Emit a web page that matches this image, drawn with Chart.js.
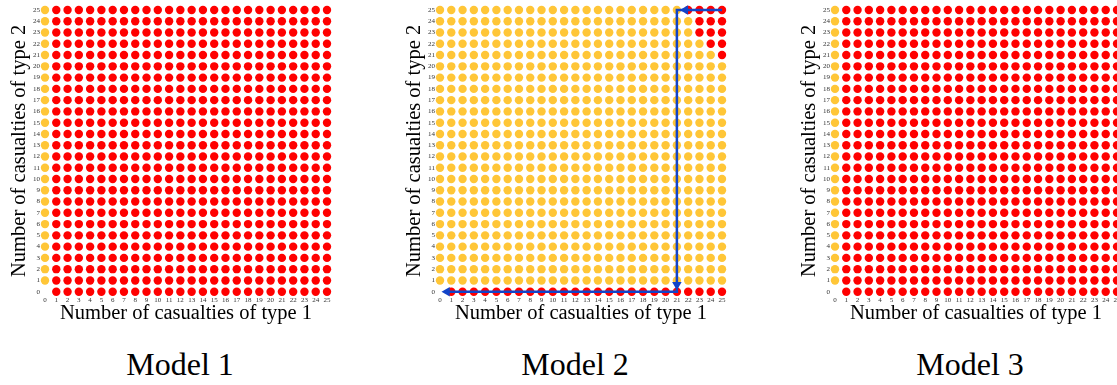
<!DOCTYPE html>
<html><head><meta charset="utf-8">
<script src="https://cdn.jsdelivr.net/npm/chart.js@4.4.0/dist/chart.umd.min.js"></script>
<style>
html,body{margin:0;padding:0;width:1117px;height:385px;overflow:hidden;background:#fff;}
.c{position:absolute;top:0;}
.t{position:absolute;top:348px;width:200px;text-align:center;font:32px/32px "Liberation Serif",serif;color:#000;}
</style></head><body>
<canvas id="m1" class="c" style="left:0px" width="345" height="330"></canvas>
<canvas id="m2" class="c" style="left:395px" width="345" height="330"></canvas>
<canvas id="m3" class="c" style="left:790px" width="345" height="330"></canvas>
<div class="t" style="left:80px">Model 1</div>
<div class="t" style="left:475px">Model 2</div>
<div class="t" style="left:870px">Model 3</div>
<script>
// ---- data ----
const gridValues = [0,1,2,3,4,5,6,7,8,9,10,11,12,13,14,15,16,17,18,19,20,21,22,23,24,25];
const tickLabels = ['0','1','2','3','4','5','6','7','8','9','10','11','12','13','14','15','16','17','18','19','20','21','22','23','24','25'];
const xTitle = 'Number of casualties of type 1';
const yTitle = 'Number of casualties of type 2';
// For each row y = 0..25: first x (type-1 casualties) whose cell is red; cells left of it are yellow.
const model1RedFrom = [1,1,1,1,1,1,1,1,1,1,1,1,1,1,1,1,1,1,1,1,1,1,1,1,1,1];
const model2RedFrom = [1,26,26,26,26,26,26,26,26,26,26,26,26,26,26,26,26,26,26,26,26,25,24,23,23,22];
const model3RedFrom = [1,1,1,1,1,1,1,1,1,1,1,1,1,1,1,1,1,1,1,1,1,1,1,1,1,1];
// cells without a dot
const model1Empty = [[0,0]];
const model2Empty = [[0,0]];
const model3Empty = [[0,0]];
// Model 2 arrow path and arrow heads (data units)
const arrowPath = [{x:25,y:25},{x:21,y:25},{x:21,y:0},{x:0.4,y:0}];
const arrowHeads = [{x:21.75,y:25},{x:21,y:0.62},{x:0.62,y:0}];
const arrowHeadRotation = [-90,180,-90];

const RED = '#FF0000', YELLOW = '#FFC637', BLUE = '#1244C8';
const FONT = 'Liberation Serif';

function cells(redFrom, empty){
  const yellow=[], red=[];
  gridValues.forEach(y=>{
    gridValues.forEach(x=>{
      if (empty.some(e=>e[0]===x && e[1]===y)) return;
      (x < redFrom[y] ? yellow : red).push({x, y});
    });
  });
  return {yellow, red};
}

function panel(id, redFrom, empty, withArrows){
  const c = cells(redFrom, empty);
  const datasets = [];
  if (withArrows){
    datasets.push({data: arrowHeads, pointStyle:'triangle', rotation: arrowHeadRotation,
      pointRadius:5.5, backgroundColor:BLUE, borderWidth:0, clip:false});
    datasets.push({data: arrowPath, showLine:true, borderColor:BLUE, borderWidth:2.5,
      pointRadius:0, fill:false, clip:false});
  }
  datasets.push({data:c.red, backgroundColor:RED, pointRadius:4.2, borderWidth:0, clip:false});
  datasets.push({data:c.yellow, backgroundColor:YELLOW, pointRadius:4.2, borderWidth:0, clip:false});
  const tickOpts = {autoSkip:false, maxRotation:0, font:{family:FONT, size:7}, color:'#333',
    callback:(v,i)=>tickLabels[i]};
  new Chart(document.getElementById(id), {
    type:'scatter',
    data:{datasets},
    options:{
      responsive:false, animation:false, events:[],
      layout:{padding:{left:0, top:10, right:18, bottom:0}},
      plugins:{legend:{display:false}, tooltip:{enabled:false}},
      scales:{
        x:{type:'linear', min:0, max:25,
          afterBuildTicks:s=>{s.ticks = gridValues.map(v=>({value:v}));},
          ticks:{...tickOpts, padding:4},
          grid:{display:false, drawTicks:false}, border:{display:false},
          title:{display:true, text:xTitle, color:'#000', font:{family:FONT, size:20.5}, padding:{top:0,bottom:3.9}},
          afterFit:s=>{s.height = 38.3;}
        },
        y:{type:'linear', min:0, max:25,
          afterBuildTicks:s=>{s.ticks = gridValues.map(v=>({value:v}));},
          ticks:{...tickOpts, padding:5},
          grid:{display:false, drawTicks:false}, border:{display:false},
          title:{display:true, text:yTitle, color:'#000', font:{family:FONT, size:20.5}, padding:{top:7,bottom:0}},
          afterFit:s=>{s.width = 45;}
        }
      }
    }
  });
}
panel('m1', model1RedFrom, model1Empty, false);
panel('m2', model2RedFrom, model2Empty, true);
panel('m3', model3RedFrom, model3Empty, false);
</script>
</body></html>
